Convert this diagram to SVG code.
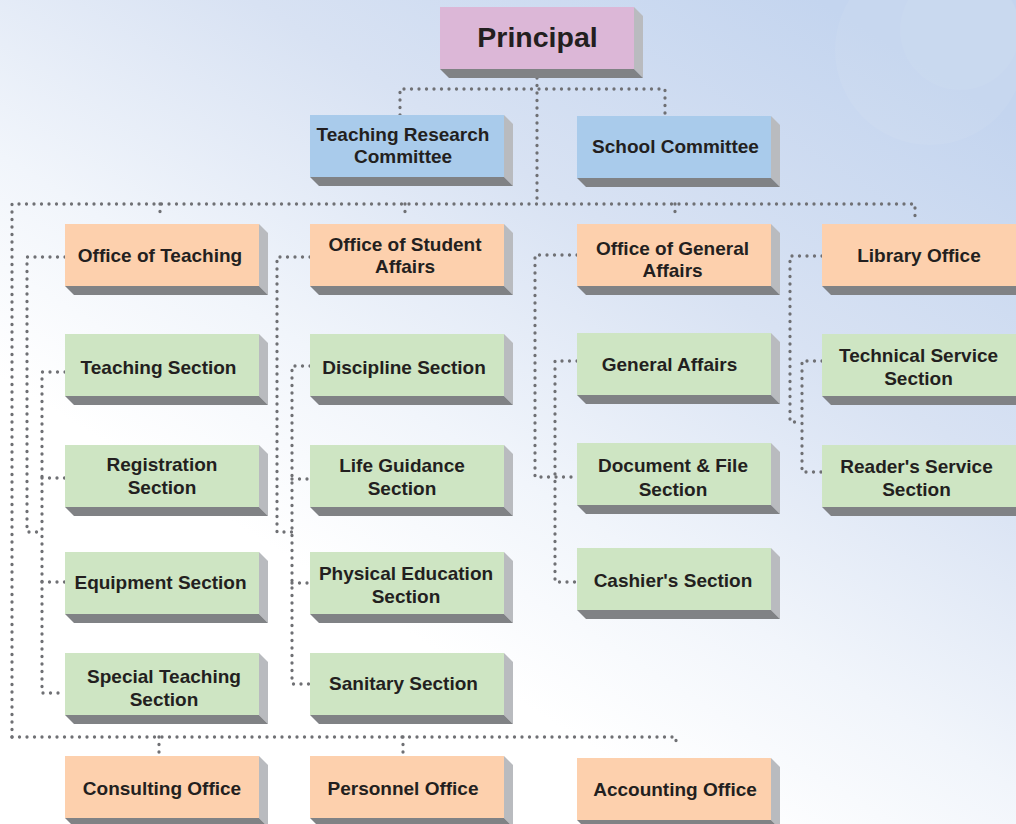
<svg xmlns="http://www.w3.org/2000/svg" xmlns:xlink="http://www.w3.org/1999/xlink" width="1016" height="824" viewBox="0 0 1016 824">
<defs>
<linearGradient id="bg" gradientUnits="userSpaceOnUse" x1="820" y1="0" x2="420" y2="640">
<stop offset="0" stop-color="#c4d5ef"/>
<stop offset="0.4" stop-color="#d8e2f3"/>
<stop offset="0.75" stop-color="#f1f5fb"/>
<stop offset="1" stop-color="#ffffff"/>
</linearGradient>
<g id="ext">
<polygon points="194,0 203,9 203,71 194,62" fill="#b9bbbf"/>
<polygon points="0,62 194,62 203,71 9,71" fill="#808285"/>
</g>
<style>
.t{font-family:"Liberation Sans",Arial,Helvetica,sans-serif;font-weight:bold;font-size:19px;fill:#231f20;text-anchor:middle}
.big{font-size:28.5px}
.pink{fill:#dcb7d7}
.blue{fill:#a9cbeb}
.peach{fill:#fdd0ad}
.green{fill:#cee5c3}
.dot{fill:none;stroke:#6f7074;stroke-width:3.3;stroke-linecap:round;stroke-linejoin:round;stroke-dasharray:0 7.5}
</style>
</defs>
<rect width="1016" height="824" fill="url(#bg)"/>
<circle cx="930" cy="50" r="95" fill="#ffffff" opacity="0.06"/>
<circle cx="960" cy="30" r="60" fill="#ffffff" opacity="0.05"/>

<g id="connectors">
<path class="dot" d="M537 78 V203"/>
<path class="dot" d="M400 115 V89 H665 V116"/>
<path class="dot" d="M12 737 V204 H915 V222"/>
<path class="dot" d="M160 204 V219"/>
<path class="dot" d="M405 204 V219"/>
<path class="dot" d="M675 204 V219"/>
<path class="dot" d="M12 737 H676 V746"/>
<path class="dot" d="M159 737 V755"/>
<path class="dot" d="M403 737 V755"/>
<path class="dot" d="M65 257 H27 V532 H42"/>
<path class="dot" d="M65 372 H42 V693 H65"/>
<path class="dot" d="M42 478 H65"/>
<path class="dot" d="M42 582 H65"/>
<path class="dot" d="M310 257 H277 V532 H292"/>
<path class="dot" d="M310 366 H292 V684 H310"/>
<path class="dot" d="M292 479 H310"/>
<path class="dot" d="M292 583 H310"/>
<path class="dot" d="M577 255 H535 V477 H577"/>
<path class="dot" d="M577 361 H555 V582 H577"/>
<path class="dot" d="M822 256 H790 V422 H802"/>
<path class="dot" d="M822 361 H802 V472 H822"/>
</g>

<g id="principal" transform="translate(440,7)"><use xlink:href="#ext"/><rect class="pink" width="194" height="62"/><text class="t big" x="97.5" y="40">Principal</text></g>
<g id="teaching-research-committee" transform="translate(310,115)"><use xlink:href="#ext"/><rect class="blue" width="194" height="62"/><text class="t" x="93" y="26">Teaching Research</text><text class="t" x="93" y="48">Committee</text></g>
<g id="school-committee" transform="translate(577,116)"><use xlink:href="#ext"/><rect class="blue" width="194" height="62"/><text class="t" x="98.5" y="37">School Committee</text></g>

<g id="office-teaching" transform="translate(65,224)"><use xlink:href="#ext"/><rect class="peach" width="194" height="62"/><text class="t" x="95" y="38">Office of Teaching</text></g>
<g id="office-student-affairs" transform="translate(310,224)"><use xlink:href="#ext"/><rect class="peach" width="194" height="62"/><text class="t" x="95" y="27">Office of Student</text><text class="t" x="95" y="49">Affairs</text></g>
<g id="office-general-affairs" transform="translate(577,224)"><use xlink:href="#ext"/><rect class="peach" width="194" height="62"/><text class="t" x="95.5" y="31">Office of General</text><text class="t" x="95.5" y="53">Affairs</text></g>
<g id="library-office" transform="translate(822,224)"><use xlink:href="#ext"/><rect class="peach" width="194" height="62"/><text class="t" x="97" y="38">Library Office</text></g>

<g id="teaching-section" transform="translate(65,334)"><use xlink:href="#ext"/><rect class="green" width="194" height="62"/><text class="t" x="93.5" y="40">Teaching Section</text></g>
<g id="registration-section" transform="translate(65,445)"><use xlink:href="#ext"/><rect class="green" width="194" height="62"/><text class="t" x="97" y="26">Registration</text><text class="t" x="97" y="49">Section</text></g>
<g id="equipment-section" transform="translate(65,552)"><use xlink:href="#ext"/><rect class="green" width="194" height="62"/><text class="t" x="95.5" y="37">Equipment Section</text></g>
<g id="special-teaching-section" transform="translate(65,653)"><use xlink:href="#ext"/><rect class="green" width="194" height="62"/><text class="t" x="99" y="30">Special Teaching</text><text class="t" x="99" y="53">Section</text></g>

<g id="discipline-section" transform="translate(310,334)"><use xlink:href="#ext"/><rect class="green" width="194" height="62"/><text class="t" x="94" y="40">Discipline Section</text></g>
<g id="life-guidance-section" transform="translate(310,445)"><use xlink:href="#ext"/><rect class="green" width="194" height="62"/><text class="t" x="92" y="27">Life Guidance</text><text class="t" x="92" y="50">Section</text></g>
<g id="physical-education-section" transform="translate(310,552)"><use xlink:href="#ext"/><rect class="green" width="194" height="62"/><text class="t" x="96" y="28">Physical Education</text><text class="t" x="96" y="51">Section</text></g>
<g id="sanitary-section" transform="translate(310,653)"><use xlink:href="#ext"/><rect class="green" width="194" height="62"/><text class="t" x="93.5" y="37">Sanitary Section</text></g>

<g id="general-affairs" transform="translate(577,333)"><use xlink:href="#ext"/><rect class="green" width="194" height="62"/><text class="t" x="92.5" y="38">General Affairs</text></g>
<g id="document-file-section" transform="translate(577,443)"><use xlink:href="#ext"/><rect class="green" width="194" height="62"/><text class="t" x="96" y="29">Document &amp; File</text><text class="t" x="96" y="53">Section</text></g>
<g id="cashiers-section" transform="translate(577,548)"><use xlink:href="#ext"/><rect class="green" width="194" height="62"/><text class="t" x="96" y="39">Cashier's Section</text></g>

<g id="technical-service-section" transform="translate(822,334)"><use xlink:href="#ext"/><rect class="green" width="194" height="62"/><text class="t" x="96.5" y="28">Technical Service</text><text class="t" x="96.5" y="51">Section</text></g>
<g id="readers-service-section" transform="translate(822,445)"><use xlink:href="#ext"/><rect class="green" width="194" height="62"/><text class="t" x="94.5" y="28">Reader's Service</text><text class="t" x="94.5" y="51">Section</text></g>

<g id="consulting-office" transform="translate(65,756)"><use xlink:href="#ext"/><rect class="peach" width="194" height="62"/><text class="t" x="97" y="39">Consulting Office</text></g>
<g id="personnel-office" transform="translate(310,756)"><use xlink:href="#ext"/><rect class="peach" width="194" height="62"/><text class="t" x="93" y="39">Personnel Office</text></g>
<g id="accounting-office" transform="translate(577,758)"><use xlink:href="#ext"/><rect class="peach" width="194" height="62"/><text class="t" x="98" y="38">Accounting Office</text></g>
</svg>
